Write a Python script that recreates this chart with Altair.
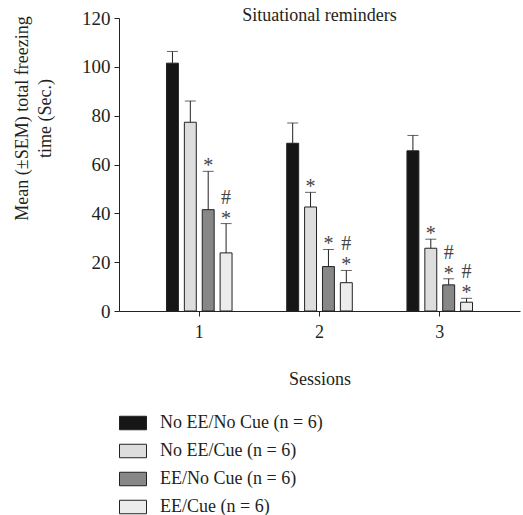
import altair as alt
import pandas as pd

sessions = ["1", "2", "3"]
groups = ["No EE/No Cue (n = 6)", "No EE/Cue (n = 6)", "EE/No Cue (n = 6)", "EE/Cue (n = 6)"]
colors = ["#161616", "#dcdddc", "#878787", "#ececec"]
means = {
    groups[0]: [101.5, 68.7, 65.6],
    groups[1]: [77.3, 42.6, 25.7],
    groups[2]: [41.5, 18.2, 10.7],
    groups[3]: [23.8, 11.6, 3.6],
}
sems = {
    groups[0]: [4.8, 8.3, 6.3],
    groups[1]: [8.7, 6.0, 3.7],
    groups[2]: [15.7, 7.0, 2.5],
    groups[3]: [12.0, 5.0, 1.6],
}
marks = {
    groups[0]: ["", "", ""],
    groups[1]: ["", "*", "*"],
    groups[2]: ["*", "*", "#*"],
    groups[3]: ["#*", "#*", "#*"],
}

rows = []
for g in groups:
    for i, s in enumerate(sessions):
        m = means[g][i]
        e = sems[g][i]
        rows.append({"session": s, "group": g, "mean": m, "top": m + e,
                     "star": "*" if "*" in marks[g][i] else "",
                     "hash": "#" if "#" in marks[g][i] else ""})
df = pd.DataFrame(rows)

FONT = "Liberation Serif"
TXT = "#231f20"

x = alt.X("session:N", sort=sessions,
          scale=alt.Scale(paddingInner=0.405, paddingOuter=0.37),
          axis=alt.Axis(title="Sessions", labelAngle=0, titlePadding=29,
                        labelPadding=7, tickSize=5))
xo = alt.XOffset("group:N", sort=groups,
                 scale=alt.Scale(paddingInner=0.333, paddingOuter=0.167))

base = alt.Chart(df)

bars = base.mark_bar(stroke="#222222", strokeWidth=1).encode(
    x=x, xOffset=xo,
    y=alt.Y("mean:Q", scale=alt.Scale(domain=[0, 120]),
            axis=alt.Axis(values=[0, 20, 40, 60, 80, 100, 120], tickSize=5,
                          labelPadding=4, labelFontSize=19,
                          title=["Mean (\u00b1SEM) total freezing", "time (Sec.)"],
                          titleAngle=-90, titleX=-88, titleY=100,
                          titleLineHeight=23,
                          titleAlign="center", titleBaseline="bottom")),
    fill=alt.Fill("group:N", sort=groups,
                  scale=alt.Scale(domain=groups, range=colors),
                  legend=alt.Legend(title=None, orient="none", legendX=0, legendY=391,
                                    symbolType="M-1,-0.5L1,-0.5L1,0.5L-1,0.5Z",
                                    symbolSize=729, symbolStrokeColor="#222222",
                                    symbolStrokeWidth=1, rowPadding=5,
                                    labelOffset=13, labelFontSize=18, labelLimit=400,
                                    labelFont=FONT, labelColor=TXT)),
)

err = base.mark_rule(color="#222222", strokeWidth=1).encode(
    x=x, xOffset=xo, y="mean:Q", y2="top:Q")

caps = base.mark_tick(orient="horizontal", size=11, thickness=1, color="#222222").encode(
    x=x, xOffset=xo, y="top:Q")

stars = base.mark_text(font=FONT, fontSize=20, color="#444444", baseline="middle",
                       dy=-5).encode(
    x=x, xOffset=xo, y="top:Q", text="star:N")

hashes = base.mark_text(font=FONT, fontSize=20, color="#444444", baseline="middle",
                        dy=-26).encode(
    x=x, xOffset=xo, y="top:Q", text="hash:N")

chart = alt.layer(bars, err, caps, stars, hashes).properties(
    width=401, height=293,
    title=alt.TitleParams("Situational reminders", font=FONT, fontSize=18,
                          fontWeight="normal", color=TXT, anchor="middle",
                          offset=-30, baseline="alphabetic"),
    autosize=alt.AutoSizeParams(type="none"),
    padding={"left": 119, "top": 18, "right": 3, "bottom": 204},
).configure_view(stroke=None).configure_axis(
    grid=False, domainColor="#222222", tickColor="#222222", labelFont=FONT,
    titleFont=FONT, labelFontSize=18, titleFontSize=18, labelColor=TXT,
    titleColor=TXT, titleFontWeight="normal",
)

chart.save("out.html", embed_options={"renderer": "svg", "actions": False})
